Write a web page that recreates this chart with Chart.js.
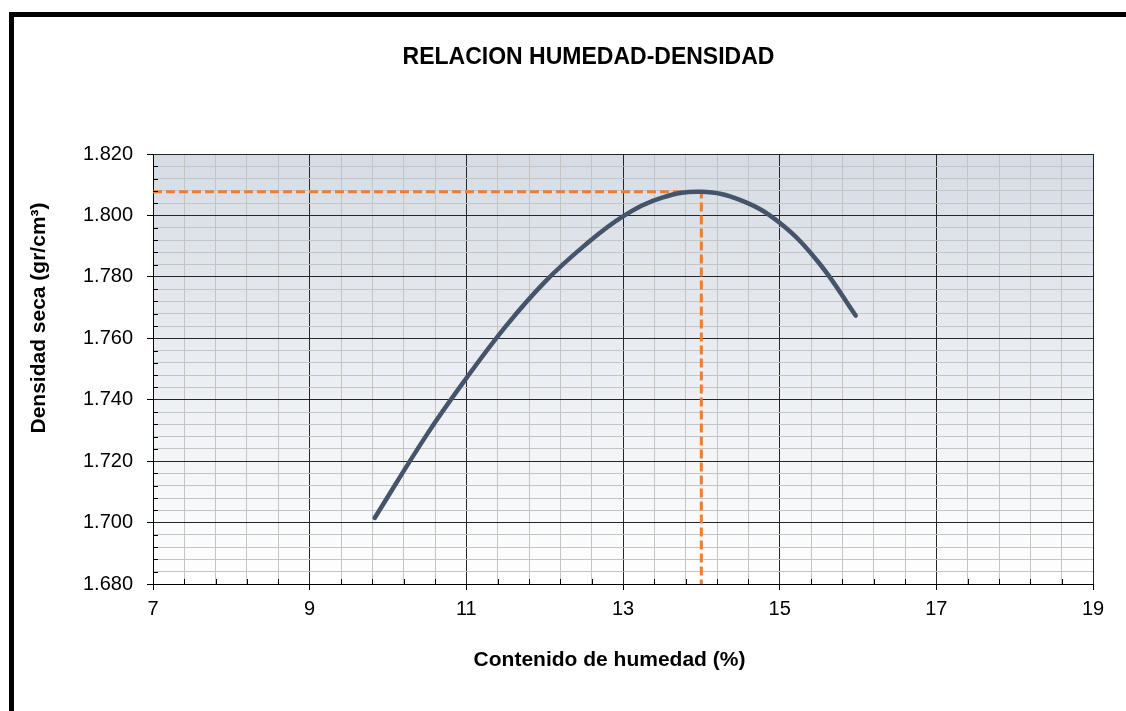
<!DOCTYPE html>
<html>
<head>
<meta charset="utf-8">
<script src="https://cdn.jsdelivr.net/npm/chart.js@4"></script>
<style>
  body { margin: 0; background: #fff; }
  canvas { display: block; }
</style>
</head>
<body>
<canvas id="grafico" width="1126" height="711"></canvas>
<script>
// Curva humedad-densidad
const humedad  = [9.83, 10.5, 11.0, 11.5, 12.0, 12.5, 13.0, 13.5, 14.0, 14.5, 15.0, 15.5, 15.97];
const densidad = [1.7015, 1.7288, 1.7470, 1.7638, 1.7783, 1.7900, 1.7997, 1.8058, 1.8077, 1.8050, 1.7976, 1.7846, 1.7674];

// Lineas del optimo (humedad optima / densidad maxima)
const optimoX = [7, 14.0, 14.0];
const optimoY = [1.8077, 1.8077, 1.68];

// Ejes
const ejeX = { min: 7, max: 19, mayor: 2, menor: 0.4 };
const ejeY = { min: 1.68, max: 1.82, mayor: 0.02, menor: 0.004 };

const titulo = 'RELACION HUMEDAD-DENSIDAD';
const tituloX = 'Contenido de humedad (%)';
const tituloY = 'Densidad seca (gr/cm³)';

const fuente = '"Liberation Sans", Arial, sans-serif';

function esMayor(v, eje) {
  const n = (v - eje.min) / eje.mayor;
  return Math.abs(n - Math.round(n)) < 1e-6;
}

// fondo degradado del area de trazado, marco exterior, ticks menores y titulos
const extras = {
  id: 'extras',
  beforeDraw(chart) {
    const { ctx, chartArea: a } = chart;
    const g = ctx.createLinearGradient(0, a.top, 0, a.bottom);
    g.addColorStop(0, '#d6dce4');
    g.addColorStop(1, '#ffffff');
    ctx.save();
    ctx.fillStyle = g;
    ctx.fillRect(a.left, a.top, a.right - a.left, a.bottom - a.top);
    ctx.restore();
  },
  afterDraw(chart) {
    const { ctx, chartArea: a } = chart;
    const sx = chart.scales.x, sy = chart.scales.y;
    ctx.save();
    // ticks menores hacia adentro
    ctx.strokeStyle = '#000';
    ctx.lineWidth = 1;
    ctx.beginPath();
    sy.ticks.forEach(t => {
      if (!esMayor(t.value, ejeY)) {
        const y = Math.round(sy.getPixelForValue(t.value)) + 0.5;
        ctx.moveTo(a.left, y);
        ctx.lineTo(a.left + 5, y);
      }
    });
    sx.ticks.forEach(t => {
      if (!esMayor(t.value, ejeX)) {
        const x = Math.round(sx.getPixelForValue(t.value)) + 0.5;
        ctx.moveTo(x, a.bottom);
        ctx.lineTo(x, a.bottom - 5);
      }
    });
    ctx.stroke();

    // titulos
    ctx.fillStyle = '#000';
    ctx.textAlign = 'center';
    ctx.textBaseline = 'middle';
    ctx.font = 'bold 23px ' + fuente;
    ctx.fillText(titulo, 588.5, 58);
    ctx.font = 'bold 21px ' + fuente;
    ctx.fillText(tituloX, 609.5, 660);
    ctx.translate(39.5, 318);
    ctx.rotate(-Math.PI / 2);
    ctx.fillText(tituloY, 0, 0);
    ctx.setTransform(1, 0, 0, 1, 0, 0);

    // marco
    ctx.lineWidth = 5;
    ctx.strokeStyle = '#000';
    ctx.strokeRect(11.5, 14.5, 1300, 900);
    ctx.restore();
  }
};

const ctx = document.getElementById('grafico').getContext('2d');
new Chart(ctx, {
  type: 'line',
  data: {
    datasets: [{
      data: humedad.map((x, i) => ({ x: x, y: densidad[i] })),
      borderColor: '#44546a',
      borderWidth: 4.5,
      borderCapStyle: 'round',
      pointRadius: 0,
      tension: 0.4,
      fill: false
    }, {
      data: optimoX.map((x, i) => ({ x: x, y: optimoY[i] })),
      borderColor: '#ed7d31',
      borderWidth: 3,
      borderDash: [9, 4],
      pointRadius: 0,
      tension: 0,
      fill: false
    }]
  },
  options: {
    responsive: false,
    animation: false,
    layout: { padding: { top: 154, right: 33, left: 0, bottom: 0 } },
    plugins: {
      legend: { display: false },
      tooltip: { enabled: false },
      title: { display: false }
    },
    scales: {
      x: {
        type: 'linear',
        min: ejeX.min,
        max: ejeX.max,
        afterFit(s) { s.height = 127; },
        border: { color: '#000', width: 1 },
        grid: {
          color: c => esMayor(c.tick.value, ejeX) ? '#262626' : '#c4c4c4',
          tickColor: c => esMayor(c.tick.value, ejeX) ? '#000' : 'rgba(0,0,0,0)',
          tickLength: 6
        },
        ticks: {
          stepSize: ejeX.menor,
          autoSkip: false,
          maxRotation: 0,
          padding: 7,
          color: '#000',
          font: { family: fuente, size: 20 },
          callback: v => esMayor(v, ejeX) ? String(Math.round(v)) : ''
        }
      },
      y: {
        type: 'linear',
        min: ejeY.min,
        max: ejeY.max,
        afterFit(s) { s.width = 153; },
        border: { color: '#000', width: 1 },
        grid: {
          color: c => esMayor(c.tick.value, ejeY) ? '#262626' : '#c4c4c4',
          tickColor: c => esMayor(c.tick.value, ejeY) ? '#000' : 'rgba(0,0,0,0)',
          tickLength: 6
        },
        ticks: {
          stepSize: ejeY.menor,
          autoSkip: false,
          padding: 14,
          color: '#000',
          font: { family: fuente, size: 20 },
          callback: v => esMayor(v, ejeY) ? v.toFixed(3) : ''
        }
      }
    }
  },
  plugins: [extras]
});
</script>
</body>
</html>
